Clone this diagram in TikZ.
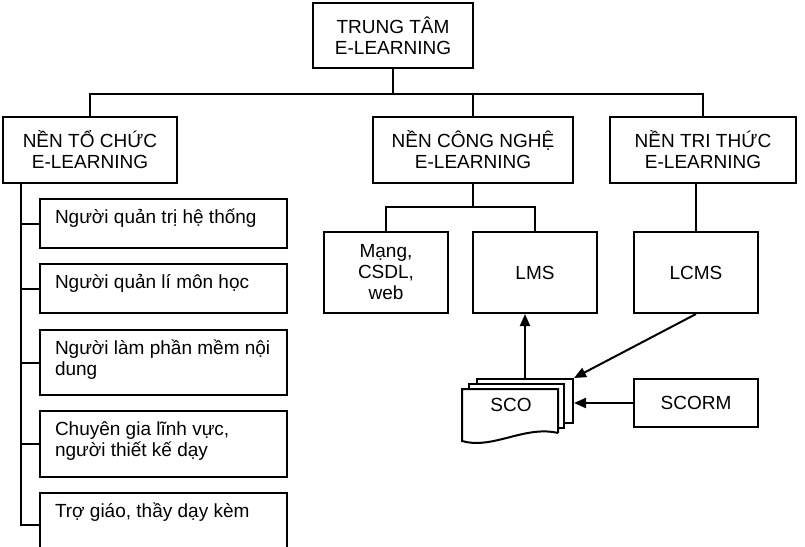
\documentclass[tikz,border=0pt]{standalone}
\usepackage{fontspec}
\setmainfont{Liberation Sans}
\usepackage{tikz}
\usetikzlibrary{arrows.meta}
\newcommand{\staff}[4]{
\node[staffbox, minimum height=#3] (#1) at (163.5,#2) {};
\node[stafftext] (#1text) at ([shift={(15,7)}]#1.north west) {\rule{0pt}{17pt}#4};
}

\begin{document}
\begin{tikzpicture}[x=1pt, y=-1pt, line width=2pt,
    font=\fontsize{19}{21}\selectfont,
    box/.style={draw, align=center, inner sep=0pt},
    staffbox/.style={draw, minimum width=247pt},
    stafftext/.style={anchor=north west, align=left, inner sep=0pt},
    sheet/.style={draw, fill=white, minimum width=96pt, minimum height=44pt},
    arr/.style={-{Triangle[length=12pt,width=10pt]}}]
      \useasboundingbox (0,0) rectangle (805,546);
      \node[box, minimum width=160pt, minimum height=65pt] (centre) at (393,35.5) {TRUNG TÂM\\E-LEARNING};
      \node[box, minimum width=174pt, minimum height=66pt] (org) at (90,150) {NỀN TỔ CHỨC\\E-LEARNING};
      \node[box, minimum width=200pt, minimum height=66pt] (tech) at (473,150) {NỀN CÔNG NGHỆ\\E-LEARNING};
      \node[box, minimum width=186pt, minimum height=66pt] (know) at (703,150) {NỀN TRI THỨC\\E-LEARNING};
      \node[box, minimum width=124pt, minimum height=81pt] (net) at (386,272.5) {Mạng,\\CSDL,\\web};
      \node[box, minimum width=124pt, minimum height=81pt] (lms) at (535,272.5) {LMS};
      \node[box, minimum width=124pt, minimum height=81pt] (lcms) at (696,272.5) {LCMS};
      \node[box, minimum width=124pt, minimum height=48pt] (scorm) at (696,403) {SCORM};
      \staff{s1}{223.5}{49pt}{Người quản trị hệ thống}
      \staff{s2}{288.5}{49pt}{Người quản lí môn học}
      \staff{s3}{362.5}{65pt}{Người làm phần mềm nội\\dung}
      \staff{s4}{444}{66pt}{Chuyên gia lĩnh vực,\\người thiết kế dạy}
      \staff{s5}{525}{64pt}{Trợ giáo, thầy dạy kèm}
      % SCO stack
      \node[sheet] (sco3) at (525,401) {};
      \node[sheet, minimum width=95pt] (sco2) at (516.5,406) {};
      \draw[fill=white] (558,433) -- (558,389) -- (462,389) -- (462,441)
        .. controls (492,450) and (525,425) .. (558,433);
      \node (sco) at (511,405) {SCO};
      \draw[arr] (sco3.north) -- (sco3.north |- lms.south);
      \draw[arr] (lcms.south) -- (sco3.north east);
      \draw[arr] (scorm.west) -- (scorm.west -| sco3.east);
      % tree lines
      \coordinate (bus) at ([yshift=-25pt]centre.south);
      \draw (centre.south) -- (bus);
      \foreach \n in {org,tech,know} \draw (\n.north) |- (bus);
      \coordinate (techbus) at ([yshift=-23pt]tech.south);
      \draw (tech.south) -- (techbus);
      \foreach \n in {net,lms} \draw (\n.north) |- (techbus);
      \draw (lcms.north) -- (lcms.north |- know.south);
      \coordinate (spine) at ([xshift=19pt]org.south west);
      \draw (spine) |- (s5.west);
      \foreach \n in {s1,s2,s3,s4} \draw (\n.west) -- (\n.west -| spine);
    \end{tikzpicture}
\end{document}
